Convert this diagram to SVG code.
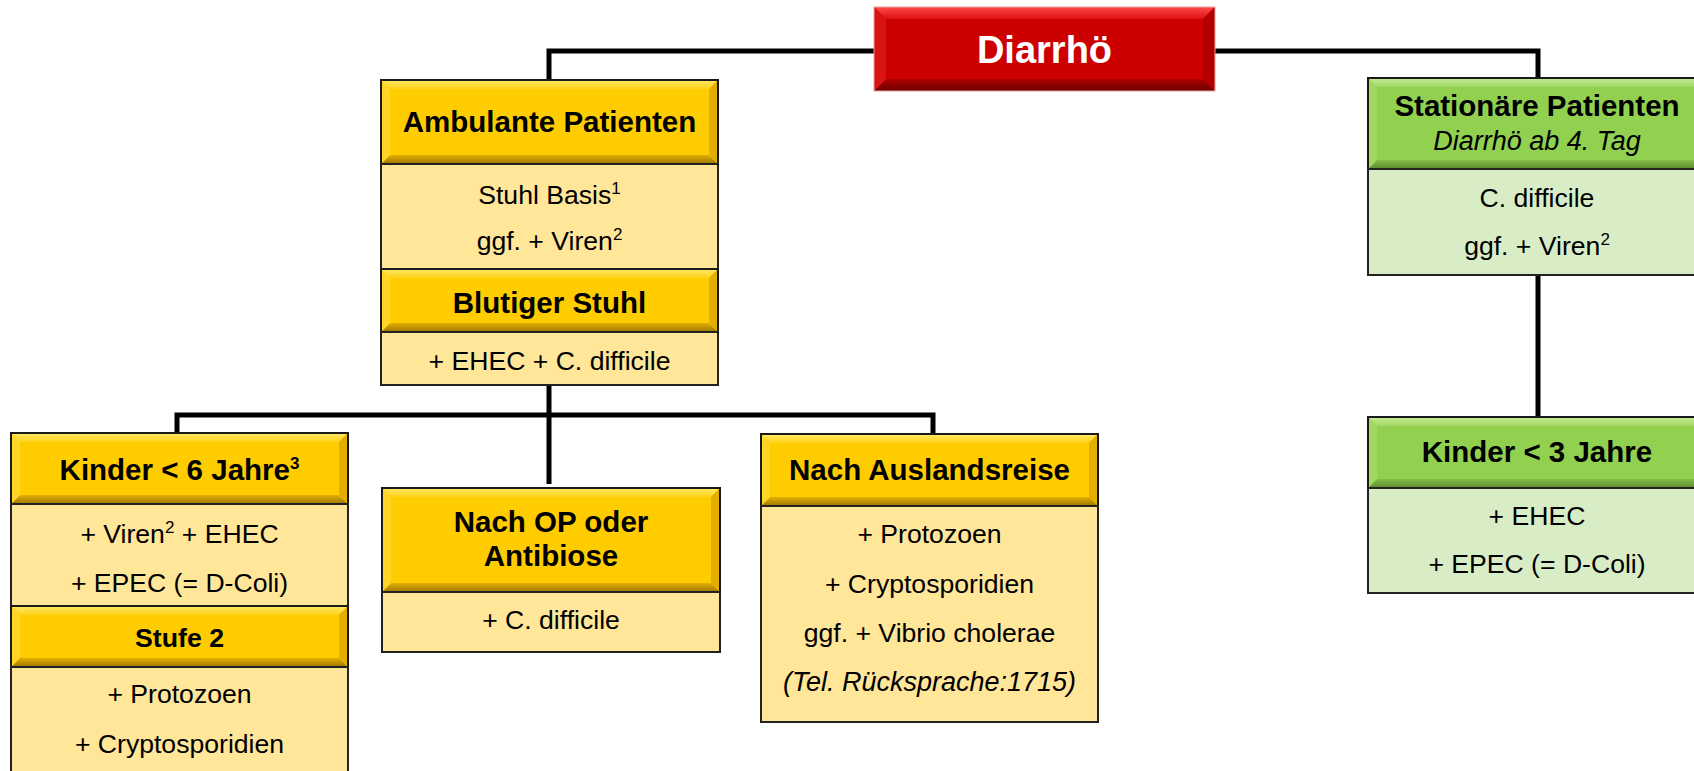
<svg xmlns="http://www.w3.org/2000/svg" width="1694" height="771" viewBox="0 0 1694 771">
<defs>
<linearGradient id="gTopG" x1="0" y1="0" x2="0" y2="1"><stop offset="0" stop-color="#FFE866"/><stop offset="1" stop-color="#FFD21A"/></linearGradient>
<linearGradient id="gBotG" x1="0" y1="0" x2="0" y2="1"><stop offset="0" stop-color="#E5B000"/><stop offset="1" stop-color="#9C7400"/></linearGradient>
<linearGradient id="gTopR" x1="0" y1="0" x2="0" y2="1"><stop offset="0" stop-color="#FF4A4A"/><stop offset="1" stop-color="#DD1010"/></linearGradient>
<linearGradient id="gBotR" x1="0" y1="0" x2="0" y2="1"><stop offset="0" stop-color="#B00000"/><stop offset="1" stop-color="#6A0000"/></linearGradient>
<linearGradient id="gTopV" x1="0" y1="0" x2="0" y2="1"><stop offset="0" stop-color="#C4EC98"/><stop offset="1" stop-color="#A2D964"/></linearGradient>
<linearGradient id="gBotV" x1="0" y1="0" x2="0" y2="1"><stop offset="0" stop-color="#84BE46"/><stop offset="1" stop-color="#5A8A2E"/></linearGradient>
<style>
.gold{fill:#FFCC00}.gt{fill:url(#gTopG)}.gb{fill:url(#gBotG)}.gl{fill:#FFD526}.gr{fill:#E3AE00}
.red{fill:#CC0000}.rt{fill:url(#gTopR)}.rb{fill:url(#gBotR)}.rl{fill:#DA1414}.rr{fill:#B20000}
.grn{fill:#92D050}.vt{fill:url(#gTopV)}.vb{fill:url(#gBotV)}.vl{fill:#A0D862}.vr{fill:#7EB646}
.by{fill:#FFE699;stroke:#222;stroke-width:2}
.bg{fill:#D8EDC6;stroke:#222;stroke-width:2}
.ol{fill:none;stroke:#1a1a1a;stroke-width:2}
.conn{fill:none;stroke:#000;stroke-width:5;stroke-linejoin:miter}
text{font-family:"Liberation Sans",Arial,sans-serif;text-anchor:middle;fill:#000}
.h{font-size:29.5px;font-weight:bold}
.h2{font-size:26.7px;font-weight:bold}
.t{font-size:26.6px}
.i{font-style:italic;font-size:27px}
.w{fill:#fff;font-size:38px;font-weight:bold}
.sup{font-size:17px}
</style>
</defs>
<rect x="0" y="0" width="1694" height="771" fill="#fff"/>

<g id="connectors">
<path class="conn" d="M549,80 V51 H876"/>
<path class="conn" d="M1214,51 H1538 V79"/>
<path class="conn" d="M549,385 V484"/>
<path class="conn" d="M177,434 V415 H933 V435"/>
<path class="conn" d="M1538,275 V418"/>
</g>

<g id="diarrhoe">
<rect class="red" x="874" y="7" width="341" height="84"/>
<polygon class="rt" points="874,7 1215,7 1203,19 886,19"/>
<polygon class="rb" points="874,91 1215,91 1203,79 886,79"/>
<polygon class="rl" points="874,7 886,19 886,79 874,91"/>
<polygon class="rr" points="1215,7 1203,19 1203,79 1215,91"/>
<rect x="874" y="7" width="341" height="84" fill="none" stroke="#E9A0A0" stroke-width="1"/>
<text class="w" x="1044.5" y="63">Diarrhö</text>
</g>

<g id="ambulant">
<rect class="gold" x="381" y="80" width="337" height="84"/>
<polygon class="gt" points="381,80 718,80 709,89 390,89"/>
<polygon class="gb" points="381,164 718,164 709,155 390,155"/>
<polygon class="gl" points="381,80 390,89 390,155 381,164"/>
<polygon class="gr" points="718,80 709,89 709,155 718,164"/>
<rect class="ol" x="381" y="80" width="337" height="84"/>
<text class="h" x="549.5" y="132">Ambulante Patienten</text>
<rect class="by" x="381" y="164" width="337" height="105"/>
<text class="t" x="549.5" y="204">Stuhl Basis<tspan class="sup" dy="-10">1</tspan></text>
<text class="t" x="549.5" y="250">ggf. + Viren<tspan class="sup" dy="-10">2</tspan></text>
</g>

<g id="blutig">
<rect class="gold" x="381" y="269" width="337" height="63"/>
<polygon class="gt" points="381,269 718,269 709,278 390,278"/>
<polygon class="gb" points="381,332 718,332 709,323 390,323"/>
<polygon class="gl" points="381,269 390,278 390,323 381,332"/>
<polygon class="gr" points="718,269 709,278 709,323 718,332"/>
<rect class="ol" x="381" y="269" width="337" height="63"/>
<text class="h" x="549.5" y="313">Blutiger Stuhl</text>
<rect class="by" x="381" y="332" width="337" height="53"/>
<text class="t" x="549.5" y="370">+ EHEC + C. difficile</text>
</g>

<g id="kinder6">
<rect class="gold" x="11" y="433" width="337" height="71"/>
<polygon class="gt" points="11,433 348,433 339,442 20,442"/>
<polygon class="gb" points="11,504 348,504 339,495 20,495"/>
<polygon class="gl" points="11,433 20,442 20,495 11,504"/>
<polygon class="gr" points="348,433 339,442 339,495 348,504"/>
<rect class="ol" x="11" y="433" width="337" height="71"/>
<text class="h" x="179.5" y="480">Kinder &lt; 6 Jahre<tspan class="sup" font-weight="bold" dy="-11">3</tspan></text>
<rect class="by" x="11" y="504" width="337" height="102"/>
<text class="t" x="179.5" y="543">+ Viren<tspan class="sup" dy="-10">2</tspan><tspan dy="10"> + EHEC</tspan></text>
<text class="t" x="179.5" y="592">+ EPEC (= D-Coli)</text>
</g>

<g id="stufe2">
<rect class="gold" x="11" y="606" width="337" height="61"/>
<polygon class="gt" points="11,606 348,606 339,615 20,615"/>
<polygon class="gb" points="11,667 348,667 339,658 20,658"/>
<polygon class="gl" points="11,606 20,615 20,658 11,667"/>
<polygon class="gr" points="348,606 339,615 339,658 348,667"/>
<rect class="ol" x="11" y="606" width="337" height="61"/>
<text class="h2" x="179.5" y="647">Stufe 2</text>
<rect class="by" x="11" y="667" width="337" height="110"/>
<text class="t" x="179.5" y="703">+ Protozoen</text>
<text class="t" x="179.5" y="753">+ Cryptosporidien</text>
</g>

<g id="nachop">
<rect class="gold" x="382" y="488" width="338" height="104"/>
<polygon class="gt" points="382,488 720,488 711,497 391,497"/>
<polygon class="gb" points="382,592 720,592 711,583 391,583"/>
<polygon class="gl" points="382,488 391,497 391,583 382,592"/>
<polygon class="gr" points="720,488 711,497 711,583 720,592"/>
<rect class="ol" x="382" y="488" width="338" height="104"/>
<text class="h" x="551" y="532">Nach OP oder</text>
<text class="h" x="551" y="566">Antibiose</text>
<rect class="by" x="382" y="592" width="338" height="60"/>
<text class="t" x="551" y="629">+ C. difficile</text>
</g>

<g id="ausland">
<rect class="gold" x="761" y="434" width="337" height="72"/>
<polygon class="gt" points="761,434 1098,434 1089,443 770,443"/>
<polygon class="gb" points="761,506 1098,506 1089,497 770,497"/>
<polygon class="gl" points="761,434 770,443 770,497 761,506"/>
<polygon class="gr" points="1098,434 1089,443 1089,497 1098,506"/>
<rect class="ol" x="761" y="434" width="337" height="72"/>
<text class="h" x="929.5" y="480">Nach Auslandsreise</text>
<rect class="by" x="761" y="506" width="337" height="216"/>
<text class="t" x="929.5" y="543">+ Protozoen</text>
<text class="t" x="929.5" y="593">+ Cryptosporidien</text>
<text class="t" x="929.5" y="642">ggf. + Vibrio cholerae</text>
<text class="t i" x="929.5" y="691">(Tel. Rücksprache:1715)</text>
</g>

<g id="stationaer">
<rect class="grn" x="1368" y="78" width="340" height="91"/>
<polygon class="vt" points="1368,78 1708,78 1699,87 1377,87"/>
<polygon class="vb" points="1368,169 1708,169 1699,160 1377,160"/>
<polygon class="vl" points="1368,78 1377,87 1377,160 1368,169"/>
<polygon class="vr" points="1708,78 1699,87 1699,160 1708,169"/>
<rect class="ol" x="1368" y="78" width="340" height="91"/>
<text class="h" x="1537" y="116">Stationäre Patienten</text>
<text class="t i" x="1537" y="150">Diarrhö ab 4. Tag</text>
<rect class="bg" x="1368" y="169" width="340" height="106"/>
<text class="t" x="1537" y="207">C. difficile</text>
<text class="t" x="1537" y="255">ggf. + Viren<tspan class="sup" dy="-10">2</tspan></text>
</g>

<g id="kinder3">
<rect class="grn" x="1368" y="417" width="340" height="71"/>
<polygon class="vt" points="1368,417 1708,417 1699,426 1377,426"/>
<polygon class="vb" points="1368,488 1708,488 1699,479 1377,479"/>
<polygon class="vl" points="1368,417 1377,426 1377,479 1368,488"/>
<polygon class="vr" points="1708,417 1699,426 1699,479 1708,488"/>
<rect class="ol" x="1368" y="417" width="340" height="71"/>
<text class="h" x="1537" y="462">Kinder &lt; 3 Jahre</text>
<rect class="bg" x="1368" y="488" width="340" height="105"/>
<text class="t" x="1537" y="525">+ EHEC</text>
<text class="t" x="1537" y="573">+ EPEC (= D-Coli)</text>
</g>
</svg>
